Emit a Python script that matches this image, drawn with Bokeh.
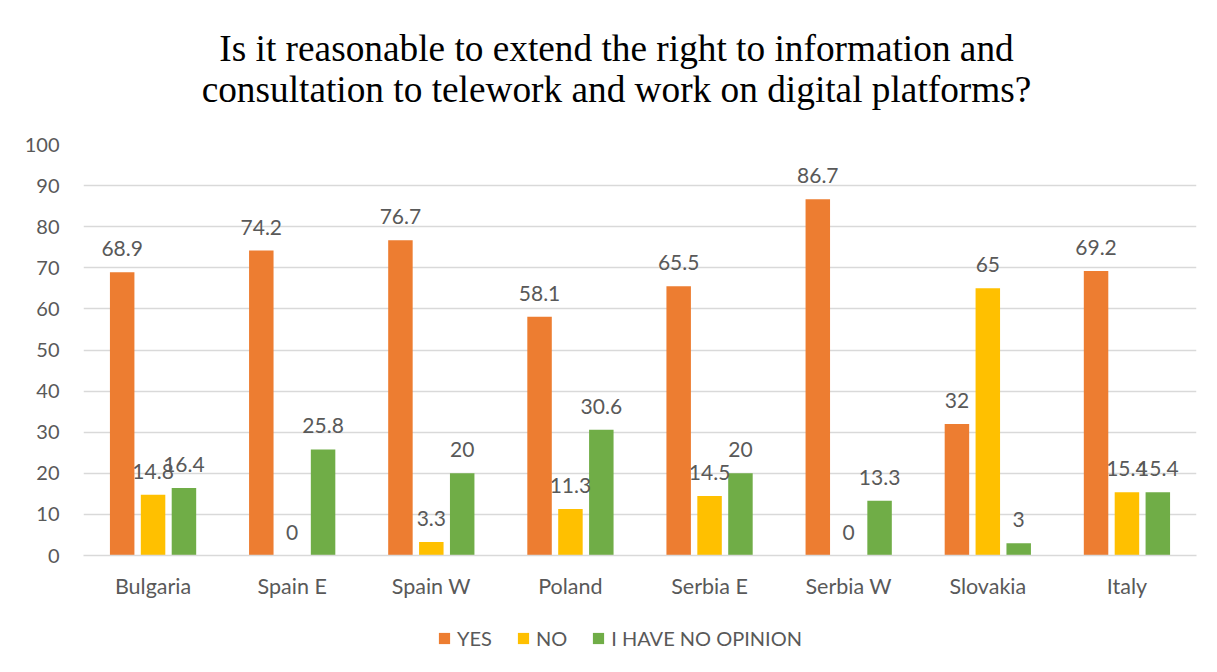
from bokeh.plotting import figure
from bokeh.models import (ColumnDataSource, FactorRange, Legend, LegendItem,
                          LabelSet, Label, FixedTicker, Range1d)
from bokeh.layouts import column
from bokeh.transform import dodge
from bokeh.core.properties import value
from bokeh.embed import file_html
from bokeh.resources import INLINE

categories = ["Bulgaria", "Spain E", "Spain W", "Poland", "Serbia E", "Serbia W", "Slovakia", "Italy"]
yes_vals = [68.9, 74.2, 76.7, 58.1, 65.5, 86.7, 32, 69.2]
no_vals = [14.8, 0, 3.3, 11.3, 14.5, 0, 65, 15.4]
opinion_vals = [16.4, 25.8, 20, 30.6, 20, 13.3, 3, 15.4]
series_names = ["YES", "NO", "I HAVE NO OPINION"]
y_ticks = [0, 10, 20, 30, 40, 50, 60, 70, 80, 90, 100]
title_lines = ["Is it reasonable to extend the right to information and",
               "consultation to telework and work on digital platforms?"]

colors = ["#ED7D31", "#FFC000", "#70AD47"]
text_color = "#595959"
font = "Lato"
W = 1212
TH = 128
FL, FR = 83, 1196  # frame left/right edges in page pixels (shared by the column)

def fmt(v):
    return str(int(v)) if float(v).is_integer() else str(v)

def strip(height, xr, yr):
    f = figure(width=W, height=height, output_backend="svg", toolbar_location=None,
               x_range=xr, y_range=yr, min_border=0,
               x_axis_location=None, y_axis_location=None)
    f.grid.visible = False
    f.outline_line_color = None
    f.border_fill_color = "white"
    f.background_fill_color = "white"
    return f

# ---- title strip ----
pt = strip(TH, Range1d(FL, FR), Range1d(0, TH))
for txt, yy in zip(title_lines, [80, 39]):
    pt.add_layout(Label(x=616, y=yy, text=txt, text_align="center", text_baseline="alphabetic",
                        text_font="Liberation Serif", text_font_size="37.3px", text_color="black"))

# ---- main chart ----
src = ColumnDataSource(dict(
    cat=categories,
    yes=yes_vals, no=no_vals, op=opinion_vals,
    yes_l=[fmt(v) for v in yes_vals],
    no_l=[fmt(v) for v in no_vals],
    op_l=[fmt(v) for v in opinion_vals],
))

p = figure(x_range=FactorRange(*categories), y_range=Range1d(0, 100),
           width=W, height=16 + 411 + 60, output_backend="svg", toolbar_location=None,
           min_border_left=FL, min_border_right=W - FR, min_border_top=16, min_border_bottom=60)
p.outline_line_color = None
p.background_fill_color = "white"
p.border_fill_color = "white"

offsets = [-0.222, 0.0, 0.222]
fields = ["yes", "no", "op"]
lfields = ["yes_l", "no_l", "op_l"]
for off, f, lf, c in zip(offsets, fields, lfields, colors):
    p.vbar(x=dodge("cat", off, range=p.x_range), top=f, width=0.176, source=src,
           fill_color=c, line_color=None)
    labels = LabelSet(x=dodge("cat", off, range=p.x_range), y=f, text=lf, source=src,
                      text_align="center", text_baseline="bottom", y_offset=16,
                      text_font=value(font), text_font_size="21px", text_color=text_color)
    p.add_layout(labels)

p.yaxis.ticker = FixedTicker(ticks=y_ticks)
p.yaxis.axis_line_color = None
p.yaxis.major_tick_line_color = None
p.yaxis.minor_tick_line_color = None
p.yaxis.major_label_text_font = font
p.yaxis.major_label_text_font_size = "20px"
p.yaxis.major_label_text_color = text_color
p.yaxis.major_label_standoff = 18

p.xaxis.axis_line_color = "#D9D9D9"
p.xaxis.axis_line_width = 1.5
p.xaxis.major_tick_line_color = None
p.xaxis.minor_tick_line_color = None
p.xaxis.major_label_text_font = font
p.xaxis.major_label_text_font_size = "21.5px"
p.xaxis.major_label_text_color = text_color
p.xaxis.major_label_standoff = 11

p.xgrid.grid_line_color = None
p.ygrid.grid_line_color = "#D9D9D9"
p.ygrid.grid_line_width = 1.5

# ---- legend strip ----
pl = strip(46, Range1d(0, 1), Range1d(0, 1))
leg_renderers = [pl.vbar(x=[-10], top=[-10], width=0.1, fill_color=c, line_color=None) for c in colors]
legend = Legend(items=[LegendItem(label=n, renderers=[r]) for n, r in zip(series_names, leg_renderers)],
                orientation="horizontal", location=(437 - FL, 11),
                label_text_font=font, label_text_font_size="20px", label_text_color=text_color,
                glyph_width=14, glyph_height=14, label_standoff=6, spacing=24,
                border_line_color=None, background_fill_alpha=0, padding=0, margin=0)
pl.add_layout(legend, "center")

layout = column(pt, p, pl, spacing=0)
open("out.html", "w").write(file_html(layout, INLINE))
